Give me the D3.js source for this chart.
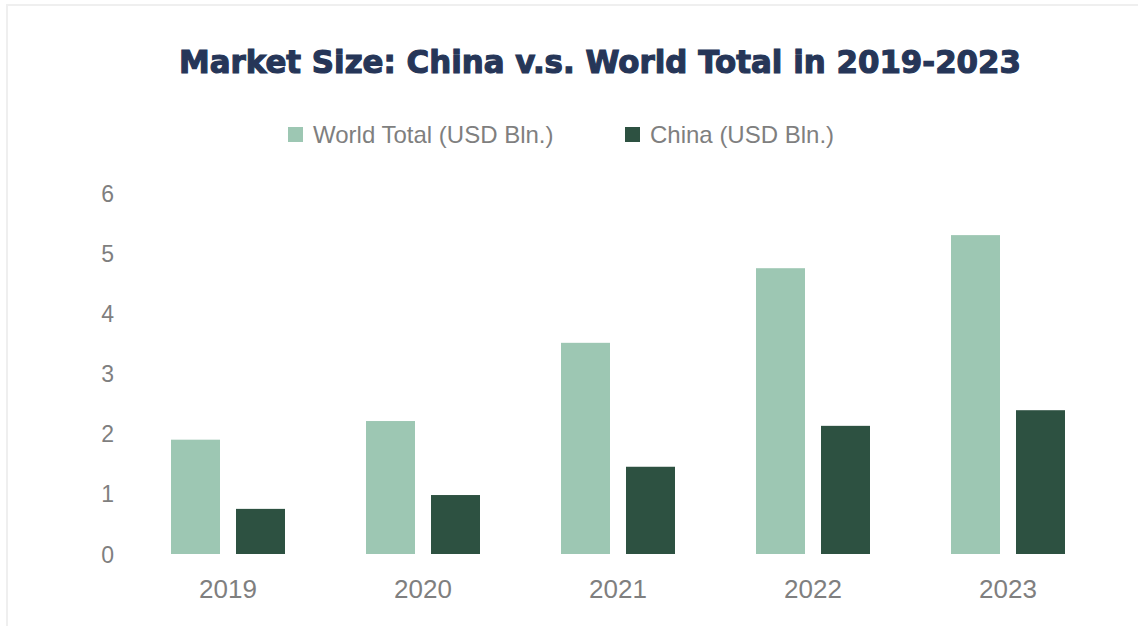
<!DOCTYPE html>
<html>
<head>
<meta charset="utf-8">
<script src="https://cdn.jsdelivr.net/npm/d3@7"></script>
<style>
  body { margin: 0; background: #fff; }
  svg { display: block; }
</style>
</head>
<body>
<div id="chart"></div>
<script>
// chart data
var years = ['2019', '2020', '2021', '2022', '2023'];
var worldTotal = [1.9, 2.21, 3.51, 4.75, 5.3];
var china = [0.75, 0.98, 1.45, 2.13, 2.39];
var seriesNames = ['World Total (USD Bln.)', 'China (USD Bln.)'];
var seriesColors = ['#9dc7b3', '#2d5141'];
var yTicks = [0, 1, 2, 3, 4, 5, 6];

var width = 1138, height = 626;
var svg = d3.select('#chart').append('svg').attr('width', width).attr('height', height);

// light frame round the chart
svg.append('rect').attr('x', 7).attr('y', 5).attr('width', 1300).attr('height', 800)
  .attr('fill', 'none').attr('stroke', '#efefef').attr('stroke-width', 2);

// title (heavy face faked with a stroke, no Arial Black here)
svg.append('text').attr('x', 600).attr('y', 73).attr('text-anchor', 'middle')
  .attr('font-family', 'DejaVu Sans').attr('font-weight', 'bold').attr('font-size', 32.5)
  .attr('fill', '#263658').attr('stroke', '#263658').attr('stroke-width', 1.2)
  .attr('textLength', 842).attr('lengthAdjust', 'spacingAndGlyphs')
  .text('Market Size: China v.s. World Total in 2019-2023');

// scales
var x0 = d3.scaleBand().domain(years).range([130.5, 1105.5]).paddingInner(0).paddingOuter(0);
var y = d3.scaleLinear().domain([0, 6]).range([554, 193]);
var barW = 49, barGap = 16;

// y axis (labels only)
var yAxis = d3.axisLeft(y).tickValues(yTicks).tickFormat(d3.format('d')).tickSize(0).tickPadding(16);
var gy = svg.append('g').attr('transform', 'translate(130,0)').call(yAxis);
gy.select('.domain').remove();
gy.selectAll('text').attr('font-family', 'Liberation Sans').attr('font-size', 23)
  .attr('fill', '#7f7f7f').attr('dy', '0.35em');

// x axis (labels only)
var xAxis = d3.axisBottom(x0).tickSize(0).tickPadding(0);
var gx = svg.append('g').attr('transform', 'translate(0,554)').call(xAxis);
gx.select('.domain').remove();
gx.selectAll('text').attr('font-family', 'Liberation Sans').attr('font-size', 26)
  .attr('fill', '#7f7f7f').attr('dy', null).attr('y', 44);

// bars
var series = [worldTotal, china];
series.forEach(function(vals, s) {
  svg.append('g').selectAll('rect').data(vals).enter().append('rect')
    .attr('x', function(d, i) {
      var c = x0(years[i]) + x0.bandwidth() / 2;
      return s == 0 ? c - barGap / 2 - barW : c + barGap / 2;
    })
    .attr('y', function(d) { return y(d); })
    .attr('width', barW)
    .attr('height', function(d) { return y(0) - y(d); })
    .attr('fill', seriesColors[s]);
});

// legend
var legendX = [288, 625];
var leg = svg.append('g');
seriesNames.forEach(function(name, s) {
  leg.append('rect').attr('x', legendX[s]).attr('y', 127).attr('width', 15).attr('height', 15)
    .attr('fill', seriesColors[s]);
  leg.append('text').attr('x', legendX[s] + 25).attr('y', 143)
    .attr('font-family', 'Liberation Sans').attr('font-size', 24)
    .attr('fill', '#7f7f7f').text(name);
});
</script>
</body>
</html>
